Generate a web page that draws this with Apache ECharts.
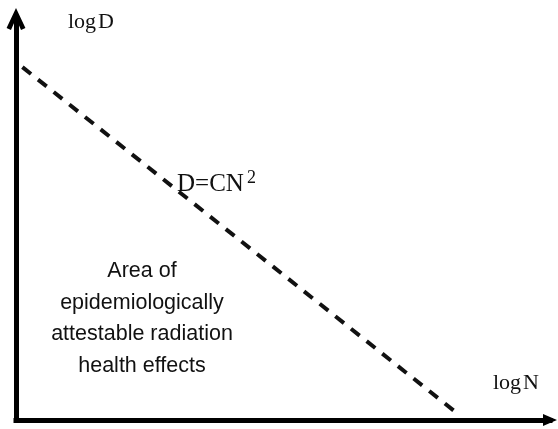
<!DOCTYPE html>
<html>
<head>
<meta charset="utf-8">
<script src="https://cdn.jsdelivr.net/npm/echarts@6/dist/echarts.min.js"></script>
<style>
html,body{margin:0;padding:0;background:#fff;}
#chart{width:558px;height:429px;}
</style>
</head>
<body>
<div id="chart"></div>
<script>
// Data (arbitrary log units, no ticks shown)
const axisNames = ['N', 'D'];
const axisPrefix = 'log';
const lineLabel = 'D=CN';
const lineExponent = '2';
const areaLines = ['Area of', 'epidemiologically', 'attestable radiation', 'health effects'];
const logN = [0.12, 8.26];
const logD = [8.8, 0.17];

const chart = echarts.init(document.getElementById('chart'));
const seriesData = logN.map((x, i) => [x, logD[i]]);
const serif = '"Liberation Serif", "Times New Roman", serif';
const richLog = {
  a: { fontFamily: serif, fontSize: 22, fill: '#111' },
  b: { fontFamily: serif, fontSize: 22, fill: '#111', padding: [0, 0, 0, 2] }
};

chart.setOption({
  animation: false,
  grid: { left: 16, right: 8, top: 19, bottom: 9 },
  xAxis: {
    type: 'value', min: 0, max: 10,
    axisLine: { show: true, onZero: false,
      symbol: ['none', 'path://M6,0 L12,14 L0,14 Z'], symbolSize: [17, 14],
      lineStyle: { color: '#000', width: 5, cap: 'square' } },
    axisTick: { show: false }, axisLabel: { show: false }, splitLine: { show: false }
  },
  yAxis: {
    type: 'value', min: 0, max: 10,
    axisLine: { show: true, onZero: false,
      symbol: ['none', 'path://M9,0 L18,19 L13.8,21 L9,10 L4.2,21 L0,19 Z'], symbolSize: [19, 22],
      lineStyle: { color: '#000', width: 5, cap: 'square' } },
    axisTick: { show: false }, axisLabel: { show: false }, splitLine: { show: false }
  },
  series: [{
    type: 'line', data: seriesData, symbol: 'none',
    lineStyle: { color: '#111', width: 4, type: [11, 9] }
  }],
  graphic: [
    { type: 'text', left: 68, top: 11, style: { text: '{a|' + axisPrefix + '}{b|' + axisNames[1] + '}', rich: richLog } },
    { type: 'text', left: 493, top: 372, style: { text: '{a|' + axisPrefix + '}{b|' + axisNames[0] + '}', rich: richLog } },
    { type: 'text', left: 177, top: 169, style: { text: '{a|' + lineLabel + '}{b|' + lineExponent + '}', rich: {
        a: { fontFamily: serif, fontSize: 25, fill: '#111' },
        b: { fontFamily: serif, fontSize: 18, fill: '#111', padding: [0, 0, 12, 3] } } } },
    { type: 'text', x: 142, y: 255.5, style: { text: areaLines.join('\n'), font: '21.5px "Liberation Sans"', fill: '#111',
        textAlign: 'center', textVerticalAlign: 'top', lineHeight: 31.5 } }
  ]
});
</script>
</body>
</html>
